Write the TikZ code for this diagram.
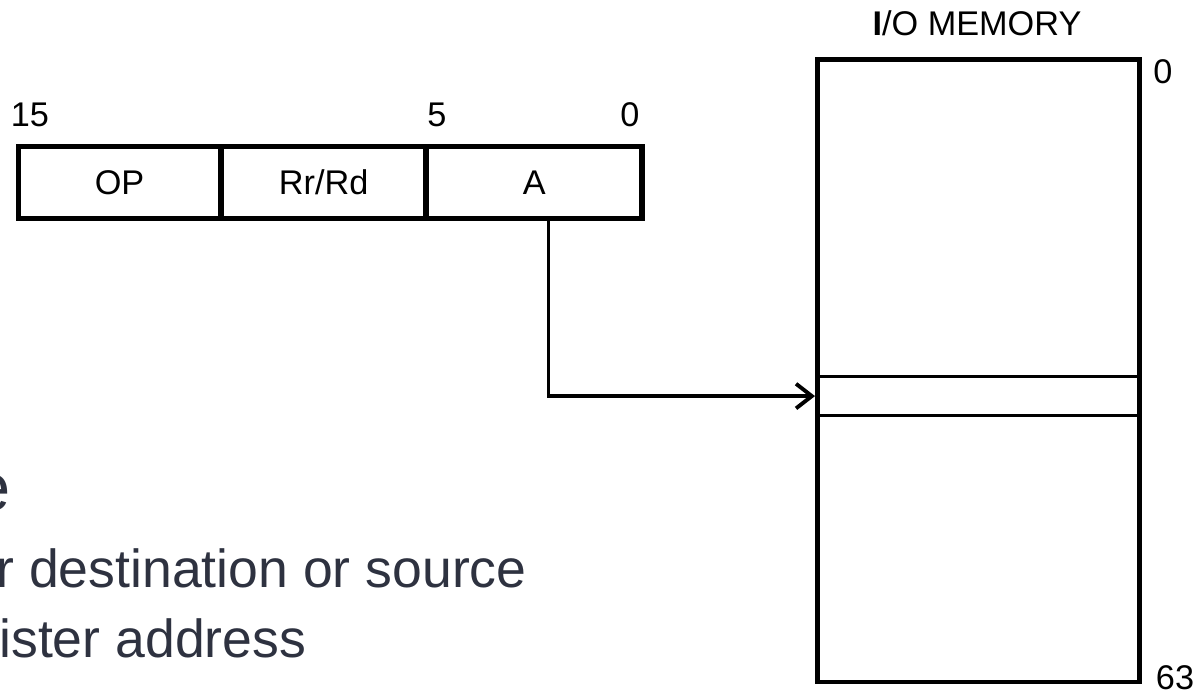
\documentclass[tikz,border=0pt]{standalone}
\usepackage{fontspec}
\setmainfont{Liberation Sans}
\usetikzlibrary{arrows.meta,positioning}
\definecolor{NoteGrey}{RGB}{46,50,64}

\begin{document}
\begin{tikzpicture}[
  x=0.02cm,y=-0.02cm,
  fieldbox/.style={draw,line width=1.8pt,minimum height=1.4cm,inner sep=0pt,
                   font=\fontsize{19.5}{23}\selectfont,text depth=0pt},
  bitlbl/.style={font=\fontsize{19.5}{23}\selectfont,inner sep=0pt},
  memlbl/.style={font=\fontsize{19.5}{23}\selectfont,inner sep=0pt},
  notetxt/.style={font=\fontsize{30.5}{36}\selectfont,text=NoteGrey,inner sep=0pt,anchor=base west},
]
\clip (0,0) rectangle (1201,696);

% instruction word
\node[fieldbox,minimum width=4cm,anchor=north west] (op) at (18,146) {OP};
\node[fieldbox,minimum width=4.04cm,right=0pt of op] (rr) {Rr/Rd};
\node[fieldbox,minimum width=4.26cm,right=0pt of rr] (addr) {A};
\draw[line width=2.6pt] (op.north west) rectangle (addr.south east);

\node[bitlbl] (b15) at (30,115) {15};
\node[bitlbl] (b5) at (437,115) {5};
\node[bitlbl] (b0) at (630,115) {0};

% I/O memory
\node[draw,line width=2.6pt,minimum width=6.44cm,minimum height=12.46cm,anchor=north west] (mem) at (815,57) {};
\node[draw,line width=1.8pt,minimum width=6.44cm,minimum height=0.78cm,anchor=north west] (slot) at (815,375) {};
\node[memlbl] (memt) at (977,23) {{\bfseries I}/O MEMORY};
\node[memlbl] (m0) at (1163,72) {0};
\node[memlbl] (m63) at (1175,678) {63};

\draw[line width=1.8pt,-{Straight Barb[length=9pt,width=14pt,line width=2.2pt]}]
  ([xshift=0.28cm]addr.south) |- (slot.west);

% notes, cut at the left edge
\node[notetxt,font=\fontsize{38}{44}\selectfont,anchor=base east] (n1) at (11,510) {e};
\node[notetxt,anchor=base east] (n2) at (527,587) {r destination or source};
\node[notetxt] (n3) at (-1,657) {ister address};
\end{tikzpicture}
\end{document}
